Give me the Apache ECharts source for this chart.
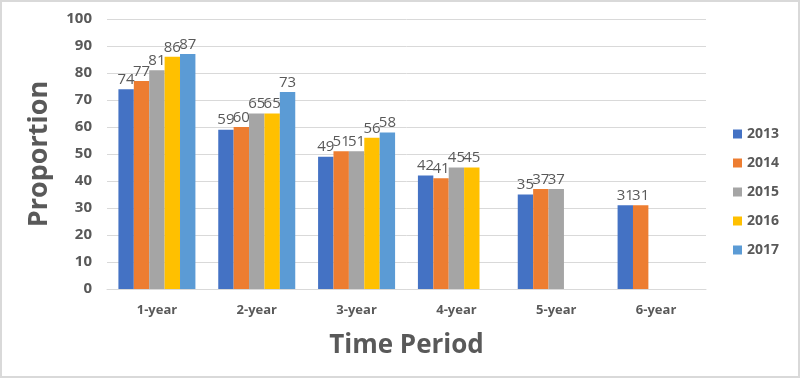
<!DOCTYPE html>
<html>
<head>
<meta charset="utf-8">
<script src="https://cdn.jsdelivr.net/npm/echarts@6/dist/echarts.min.js"></script>
<style>
  html, body { margin: 0; padding: 0; background: #fff; }
  #chart { width: 796px; height: 374px; border: 2px solid #d9d9d9; }
</style>
</head>
<body>
<div id="chart"></div>
<script>
// time periods on the x axis
var periods = ['1-year', '2-year', '3-year', '4-year', '5-year', '6-year'];
// one array per year, null where there is no bar
var y2013 = [74, 59, 49, 42, 35, 31];
var y2014 = [77, 60, 51, 41, 37, 31];
var y2015 = [81, 65, 51, 45, 37, null];
var y2016 = [86, 65, 56, 45, null, null];
var y2017 = [87, 73, 58, null, null, null];
var years = ['2013', '2014', '2015', '2016', '2017'];
var colors = ['#4472C4', '#ED7D31', '#A5A5A5', '#FFC000', '#5B9BD5'];

var values = [y2013, y2014, y2015, y2016, y2017];

var myChart = echarts.init(document.getElementById('chart'));

var series = years.map(function (name, i) {
  return {
    name: name,
    type: 'bar',
    data: values[i],
    barWidth: 15.4,
    barGap: '0%',
    itemStyle: { color: colors[i] },
    label: {
      show: true,
      position: 'top',
      distance: 2,
      color: '#595959',
      fontSize: 15,
      fontFamily: 'Open Sans'
    }
  };
});

var option = {
  animation: false,
  backgroundColor: '#fff',
  color: colors,
  textStyle: { fontFamily: 'Open Sans' },
  grid: { left: 105, right: 92, top: 17, bottom: 87, containLabel: false },
  legend: {
    orient: 'vertical',
    right: 14,
    top: 120,
    itemWidth: 9,
    itemHeight: 9,
    itemGap: 15,
    icon: 'rect',
    textStyle: { color: '#595959', fontSize: 14, fontWeight: 'bold', fontFamily: 'Open Sans' },
    data: years
  },
  xAxis: {
    type: 'category',
    data: periods,
    name: 'Time Period',
    nameLocation: 'middle',
    nameGap: 44,
    nameTextStyle: { color: '#595959', fontSize: 26, fontWeight: 'bold', fontFamily: 'Open Sans' },
    axisTick: { show: false },
    axisLine: { lineStyle: { color: '#d9d9d9' } },
    axisLabel: { color: '#595959', fontSize: 13, fontWeight: 'bold', margin: 15 }
  },
  yAxis: {
    type: 'value',
    min: 0,
    max: 100,
    interval: 10,
    name: 'Proportion',
    nameLocation: 'middle',
    nameGap: 54,
    nameTextStyle: { color: '#595959', fontSize: 27, fontWeight: 'bold', fontFamily: 'Open Sans' },
    axisLine: { show: false },
    axisTick: { show: false },
    splitLine: { lineStyle: { color: '#d9d9d9' } },
    axisLabel: { color: '#595959', fontSize: 15, fontWeight: 'bold', margin: 15 }
  },
  series: series
};

myChart.setOption(option);
</script>
</body>
</html>
